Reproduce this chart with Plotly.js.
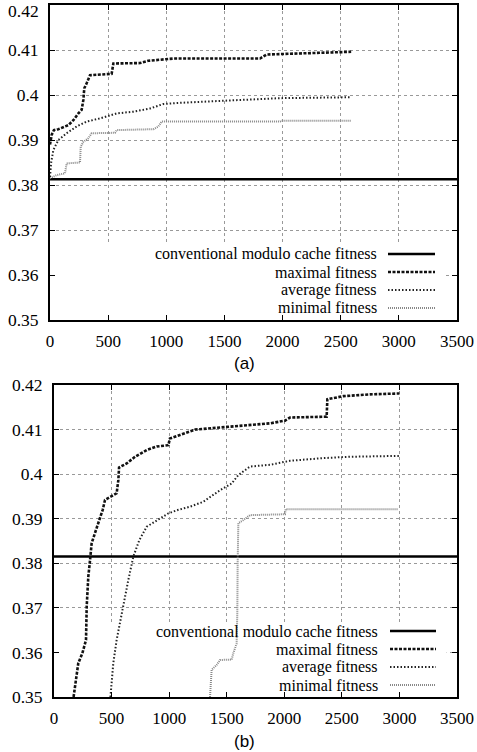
<!DOCTYPE html>
<html>
<head>
<meta charset="utf-8">
<script src="https://cdn.plot.ly/plotly-3.0.1.min.js"></script>
<style>html,body{margin:0;padding:0;background:#fff;}#chart{width:477px;height:752px;}</style>
</head>
<body>
<div id="chart"></div>
<script>
// ---- data (a) ----
const genMaxA = [0, 15, 34, 72, 158, 201, 244, 272, 287, 295, 315, 344, 530, 545, 774, 845, 1060, 1806, 1863, 2150, 2590];
const maxA    = [0.3890, 0.3912, 0.3922, 0.3924, 0.3933, 0.3944, 0.3959, 0.3967, 0.3989, 0.4015, 0.4026, 0.4044, 0.4047, 0.4070, 0.4071, 0.4076, 0.4081, 0.4081, 0.4090, 0.4093, 0.4096];
const genAvgA = [0, 10, 29, 72, 143, 229, 315, 430, 573, 716, 860, 974, 1146, 1490, 1576, 1978, 2590];
const avgA    = [0.3818, 0.3850, 0.3878, 0.3900, 0.3915, 0.3930, 0.3941, 0.3948, 0.3959, 0.3963, 0.3970, 0.3980, 0.3983, 0.3987, 0.3989, 0.3993, 0.3995];
const genMinA = [0, 57, 129, 143, 258, 264, 287, 330, 358, 559, 573, 889, 932, 960, 1978, 1990, 2590];
const minA    = [0.3815, 0.3822, 0.3826, 0.3848, 0.3850, 0.3885, 0.3896, 0.3904, 0.3915, 0.3916, 0.3922, 0.3924, 0.3930, 0.3941, 0.3941, 0.3943, 0.3943];
const convA   = 0.3813;

// ---- data (b) ----
const genMaxB = [170, 211, 246, 278, 284, 298, 313, 327, 365, 394, 423, 443, 486, 544, 559, 565, 631, 704, 805, 892, 993, 1007, 1094, 1225, 1500, 1876, 2006, 2050, 2368, 2374, 2513, 2744, 3000];
const maxB    = [0.3500, 0.3576, 0.3598, 0.3628, 0.3703, 0.3770, 0.3807, 0.3845, 0.3875, 0.3897, 0.3920, 0.3942, 0.3949, 0.3957, 0.3987, 0.4015, 0.4024, 0.4039, 0.4054, 0.4062, 0.4065, 0.4080, 0.4088, 0.4100, 0.4106, 0.4114, 0.4120, 0.4127, 0.4129, 0.4168, 0.4175, 0.4179, 0.4181];
const genAvgB = [490, 515, 544, 588, 645, 689, 741, 805, 921, 993, 1080, 1181, 1297, 1442, 1543, 1601, 1702, 1876, 2050, 2339, 2571, 3000];
const avgB    = [0.3500, 0.3576, 0.3628, 0.3688, 0.3762, 0.3815, 0.3852, 0.3882, 0.3901, 0.3912, 0.3920, 0.3927, 0.3938, 0.3964, 0.3979, 0.3998, 0.4017, 0.4021, 0.4030, 0.4036, 0.4039, 0.4041];
const genMinB = [1355, 1369, 1413, 1442, 1543, 1557, 1586, 1592, 1595, 1601, 1644, 1702, 2006, 2012, 2990];
const minB    = [0.3500, 0.3561, 0.3572, 0.3583, 0.3584, 0.3598, 0.3620, 0.3688, 0.3800, 0.3890, 0.3897, 0.3908, 0.3910, 0.3921, 0.3921];
const convB   = 0.3815;

const xRange = [0, 3500];
const xTicks = [0, 500, 1000, 1500, 2000, 2500, 3000, 3500];
const yTicks = [0.35, 0.36, 0.37, 0.38, 0.39, 0.40, 0.41, 0.42];
const yTickText = ["0.35", "0.36", "0.37", "0.38", "0.39", "0.4", "0.41", "0.42"];
const seriesNames = ["conventional modulo cache fitness", "maximal fitness", "average fitness", "minimal fitness"];
const panelLabels = ["(a)", "(b)"];

// ---- styles ----
const W = 477, H = 752;
const serif = "'Liberation Serif', 'DejaVu Serif', serif";
const sans = "'Liberation Sans', Arial, sans-serif";
const styles = [
  {color: "#000", width: 2.5, dash: "solid"},
  {color: "#111", width: 2.6, dash: "3px,1.5px"},
  {color: "#222", width: 2, dash: "1.5px,2px"},
  {color: "#888", width: 2, dash: "1px,1px"}
];

function tr(x, y, xa, ya, s) {
  return {x: x, y: y, xaxis: xa, yaxis: ya, type: "scatter", mode: "lines",
          line: {color: styles[s].color, width: styles[s].width, dash: styles[s].dash},
          showlegend: false, hoverinfo: "skip"};
}

const data = [
  tr(xRange, [convA, convA], "x", "y", 0),
  tr(genMaxA, maxA, "x", "y", 1),
  tr(genAvgA, avgA, "x", "y", 2),
  tr(genMinA, minA, "x", "y", 3),
  tr(xRange, [convB, convB], "x2", "y2", 0),
  tr(genMaxB, maxB, "x2", "y2", 1),
  tr(genAvgB, avgB, "x2", "y2", 2),
  tr(genMinB, minB, "x2", "y2", 3)
];

function common(fs) {
  return {showline: true, linecolor: "#000", linewidth: 2, mirror: "ticks",
    ticks: "inside", ticklen: 5, tickwidth: 1, tickcolor: "#000",
    showgrid: true, gridcolor: "#999", griddash: "dot", gridwidth: 1,
    zeroline: false, automargin: false, ticklabelstandoff: 6,
    ticklabeloverflow: "allow",
    tickfont: {family: serif, size: fs, color: "#000"}};
}
function xax(dom, anchor) {
  return Object.assign(common(17), {domain: dom, anchor: anchor, range: xRange,
    tickmode: "array", tickvals: xTicks, ticktext: xTicks.map(String), ticklabelstandoff: 5});
}
function yax(dom, anchor, texts) {
  return Object.assign(common(17.5), {domain: dom, anchor: anchor, range: [0.35, 0.42],
    tickmode: "array", tickvals: yTicks, ticktext: texts});
}

// top panel: its highest label sits at the page edge, so it is drawn as an annotation just inside
const topTickText = yTickText.slice(0, -1).concat([""]);

const layout = {
  width: W, height: H,
  margin: {l: 0, r: 0, t: 0, b: 0},
  paper_bgcolor: "#fff", plot_bgcolor: "#fff",
  showlegend: false,
  font: {family: serif},
  xaxis: xax([50 / W, 457 / W], "y"),
  yaxis: yax([1 - 320 / H, 1 - 5 / H], "x", topTickText),
  xaxis2: xax([54 / W, 457 / W], "y2"),
  yaxis2: yax([1 - 697 / H, 1 - 385 / H], "x2", yTickText),
  shapes: [],
  annotations: [{xref: "paper", yref: "paper", x: 40 / W, y: 1, xanchor: "right", yanchor: "top",
    showarrow: false, borderpad: 0, text: yTickText[yTickText.length - 1],
    font: {family: serif, size: 17.5, color: "#000"}}]
};

// white key boxes hiding the grid (drawn beneath the curves)
[["x", "y"], ["x2", "y2"]].forEach(([xa, ya], i) => {
  layout.shapes.push({type: "rect", xref: xa, yref: ya, x0: 0, x1: i === 0 ? 3405 : 3410,
    y0: 0.35, y1: 0.3667, fillcolor: "#fff", line: {width: 0}, layer: "between"});
});

// legends
const legendRows = [
  {textX: 378, lineX0: 388, lineX1: 435, ys: [254, 272, 290, 308]},
  {textX: 379, lineX0: 390, lineX1: 436, ys: [631, 649, 667, 685]}
];
legendRows.forEach(lr => {
  seriesNames.forEach((name, k) => {
    layout.annotations.push({xref: "paper", yref: "paper", x: lr.textX / W, y: 1 - lr.ys[k] / H,
      xanchor: "right", yanchor: "middle", showarrow: false, text: name, borderpad: 0,
      font: {family: serif, size: 16, color: "#000"}});
    layout.shapes.push({type: "line", xref: "paper", yref: "paper",
      x0: lr.lineX0 / W, x1: lr.lineX1 / W, y0: 1 - lr.ys[k] / H, y1: 1 - lr.ys[k] / H,
      line: {color: styles[k].color, width: styles[k].width, dash: styles[k].dash}, layer: "above"});
  });
});

// panel labels
[363, 741].forEach((py, i) => {
  layout.annotations.push({xref: "paper", yref: "paper", x: 245 / W, y: 1 - py / H,
    xanchor: "center", yanchor: "middle", showarrow: false, text: panelLabels[i],
    font: {family: sans, size: 17, color: "#000"}});
});

Plotly.newPlot("chart", data, layout, {staticPlot: true, displayModeBar: false});
</script>
</body>
</html>
